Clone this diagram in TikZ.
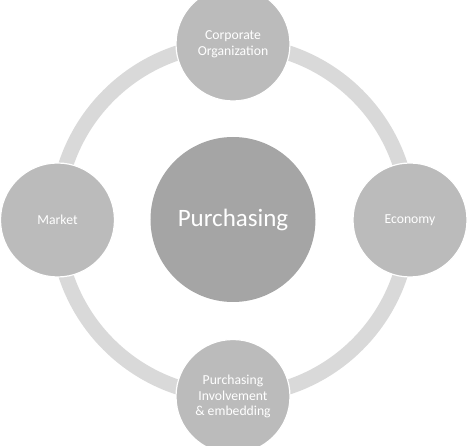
\documentclass[tikz,border=0pt]{standalone}
\usepackage{fontspec}
\setmainfont{Carlito}
\definecolor{ringgray}{RGB}{217, 217, 217}
\definecolor{satgray}{RGB}{187, 187, 187}
\definecolor{coregray}{RGB}{165, 165, 165}
\usetikzlibrary{positioning}

\begin{document}
\begin{tikzpicture}[x=1pt, y=1pt,
    satellite/.style={circle, fill=satgray, draw=white, line width=1.2pt,
        minimum size=114pt, inner sep=0pt, text=white, align=center,
        font=\fontsize{13.7}{15.7}\selectfont},
    core/.style={circle, fill=coregray, minimum size=165pt, inner sep=0pt,
        text=white, font=\fontsize{25}{30}\selectfont}]
    \useasboundingbox (-233,-226) rectangle (235,220);

    % Outer ring
    \draw[ringgray, line width=15pt] (0,0) circle (176);

    % Centre
    \node[core] (purchasing) at (0,0.5) {Purchasing};

    % Satellites on the ring
    \node[satellite] (corporate) at (0,176) {Corporate\\Organization};
    \node[satellite] (economy) at (177,0) {Economy};
    \node[satellite] (involvement) at (0,-176.5) {Purchasing\\Involvement\\\& embedding};
    \node[satellite] (market) at (-175.5,0) {Market};
\end{tikzpicture}
\end{document}
